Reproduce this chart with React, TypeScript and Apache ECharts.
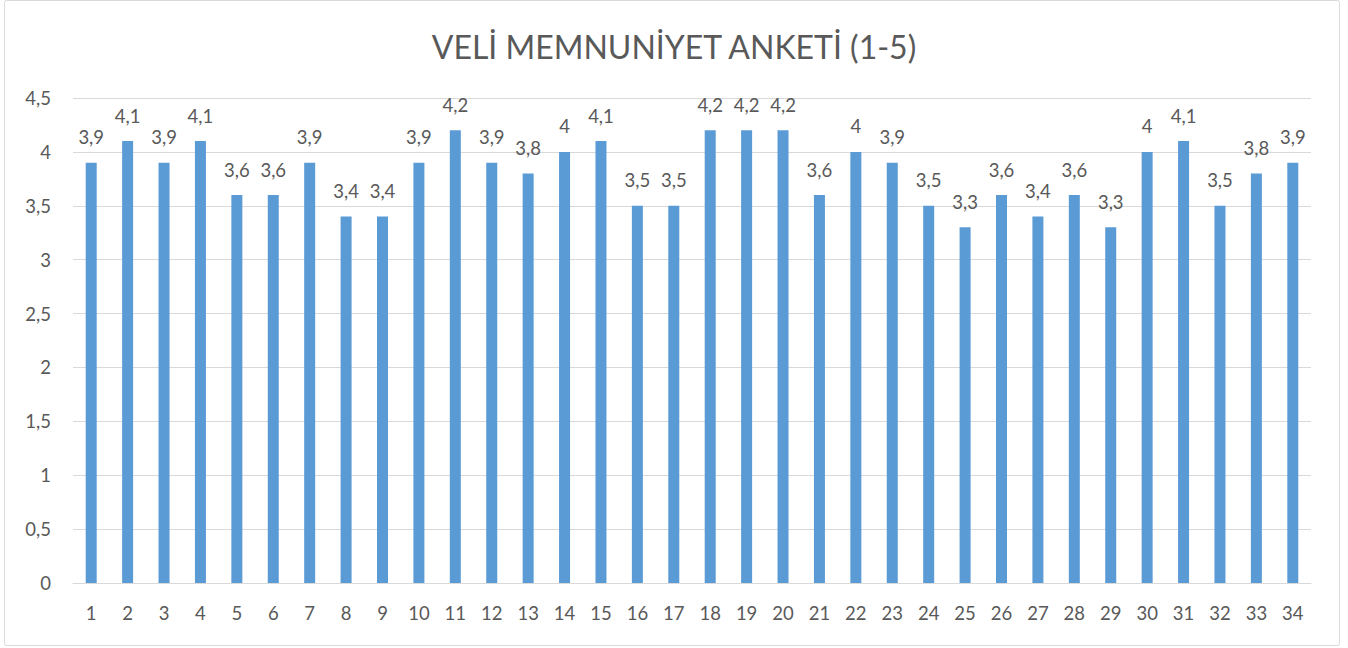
import React, { useEffect, useRef } from "react";
import * as echarts from "echarts";

const categories: string[] = Array.from({ length: 34 }, (_, i) => String(i + 1));
const values: number[] = [
  3.9, 4.1, 3.9, 4.1, 3.6, 3.6, 3.9, 3.4, 3.4, 3.9,
  4.2, 3.9, 3.8, 4, 4.1, 3.5, 3.5, 4.2, 4.2, 4.2,
  3.6, 4, 3.9, 3.5, 3.3, 3.6, 3.4, 3.6, 3.3, 4,
  4.1, 3.5, 3.8, 3.9,
];
const titleText = "VELİ MEMNUNİYET ANKETİ (1-5)";

const FONT = "Lato, 'Open Sans', sans-serif";
const TXT = "#595959";

const fmt = (v: number) => String(v).replace(".", ",");

export default function App() {
  const ref = useRef<HTMLDivElement>(null);
  useEffect(() => {
    document.body.style.margin = "0";
    const chart = echarts.init(ref.current!, undefined, { renderer: "svg" });
    chart.setOption({
      animation: false,
      backgroundColor: "#fff",
      textStyle: { fontFamily: FONT },
      graphic: [
        {
          type: "rect",
          shape: { x: 4.5, y: 0.5, width: 1335, height: 645, r: 2 },
          style: { fill: "none", stroke: "#D9D9D9", lineWidth: 1 },
          z: -1,
        },
      ],
      title: {
        text: titleText,
        left: "center",
        top: 25,
        textStyle: { fontFamily: FONT, fontSize: 32, fontWeight: "normal", color: TXT },
      },
      grid: { left: 73, right: 37, top: 98, bottom: 65, containLabel: false },
      xAxis: {
        type: "category",
        data: categories,
        axisLine: { show: true, lineStyle: { color: "#D9D9D9", width: 1 } },
        axisTick: { show: false },
        axisLabel: { color: TXT, fontSize: 18.5, fontFamily: FONT, margin: 20 },
      },
      yAxis: {
        type: "value",
        min: 0,
        max: 4.5,
        interval: 0.5,
        axisLine: { show: false },
        axisTick: { show: false },
        splitLine: { lineStyle: { color: "#D9D9D9", width: 1 } },
        axisLabel: {
          color: TXT,
          fontSize: 18.5,
          fontFamily: FONT,
          margin: 22,
          formatter: (v: number) => fmt(v),
        },
      },
      series: [
        {
          type: "bar",
          data: values,
          barWidth: 11,
          itemStyle: { color: "#5B9BD5" },
          label: {
            show: true,
            position: "top",
            distance: 16,
            color: TXT,
            fontSize: 18.5,
            fontFamily: FONT,
            formatter: (p: any) => fmt(p.value),
          },
        },
      ],
    });
    return () => chart.dispose();
  }, []);
  return <div ref={ref} style={{ width: 1348, height: 648 }} />;
}
